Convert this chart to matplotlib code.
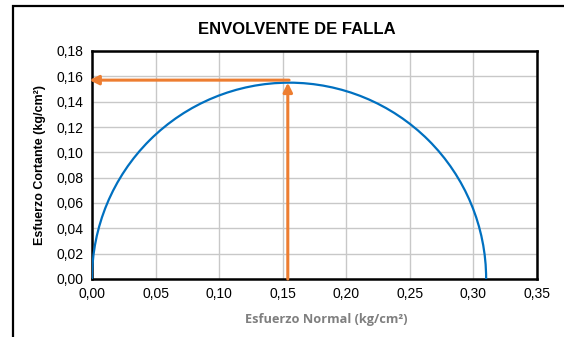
import matplotlib
matplotlib.use('Agg')
import matplotlib.pyplot as plt
from matplotlib.patches import Arc, Rectangle
from matplotlib.ticker import FuncFormatter

matplotlib.rcParams.update({
    'font.family': ['Liberation Sans', 'DejaVu Sans'],
    'font.size': 9,
})

# Mohr circle (kg/cm2)
sigma_3 = 0.0
sigma_1 = 0.31
# guide arrows
arrow_sigma = 0.154
arrow_tau_top = 0.155
arrow_tau_left = 0.157
arrow_sigma_tip = -0.002

x_ticks = [0.00, 0.05, 0.10, 0.15, 0.20, 0.25, 0.30, 0.35]
y_ticks = [0.00, 0.02, 0.04, 0.06, 0.08, 0.10, 0.12, 0.14, 0.16, 0.18]

blue = '#0070C0'
orange = '#ED7D31'

fig = plt.figure(figsize=(5.64, 3.37), dpi=100)
ax = fig.add_axes([92 / 564, 58 / 337, 445 / 564, 228 / 337])

# outer chart frame
fig.patches.append(Rectangle((13 / 564, -0.05), 1.2, 0.05 + 331 / 337,
                             transform=fig.transFigure, fill=False,
                             edgecolor='black', linewidth=1.6))

center = (sigma_1 + sigma_3) / 2
diameter = sigma_1 - sigma_3
ax.add_patch(Arc((center, 0), diameter, diameter, theta1=0, theta2=180,
                 color=blue, linewidth=1.6, zorder=3))

arrow = dict(arrowstyle='-|>,head_length=0.6,head_width=0.3',
             color=orange, linewidth=2.2, shrinkA=0, shrinkB=0)
ax.annotate('', xy=(arrow_sigma, arrow_tau_top), xytext=(arrow_sigma, 0),
            arrowprops=arrow, zorder=4, annotation_clip=False)
ax.annotate('', xy=(arrow_sigma_tip, arrow_tau_left),
            xytext=(arrow_sigma + 0.001, arrow_tau_left), arrowprops=arrow,
            zorder=4, annotation_clip=False)

ax.set_xlim(0, 0.35)
ax.set_ylim(0, 0.18)
ax.set_xticks(x_ticks)
ax.set_yticks(y_ticks)
comma = FuncFormatter(lambda v, p: f'{v:.2f}'.replace('.', ','))
ax.xaxis.set_major_formatter(comma)
ax.yaxis.set_major_formatter(comma)
ax.tick_params(length=0, pad=6, labelsize=10)
ax.grid(True, color='#c8c8c8', linewidth=1.0)
ax.set_axisbelow(True)
for s in ax.spines.values():
    s.set_linewidth(1.8)
    s.set_color('black')

fig.text(297 / 564, 1 - 29 / 337, 'ENVOLVENTE DE FALLA', ha='center',
         va='center', fontsize=12, fontweight='bold')
fig.text(40 / 564, 1 - 165 / 337, 'Esfuerzo Cortante (kg/cm²)',
         rotation=90, ha='center', va='center', fontsize=9,
         fontweight='bold')
fig.text(326 / 564, 1 - 319 / 337, 'Esfuerzo Normal (kg/cm²)',
         ha='center', va='center', fontsize=9.2, fontweight='bold',
         color='#7f7f7f', family=['Open Sans', 'DejaVu Sans'])

fig.savefig('out.png', dpi=100)
